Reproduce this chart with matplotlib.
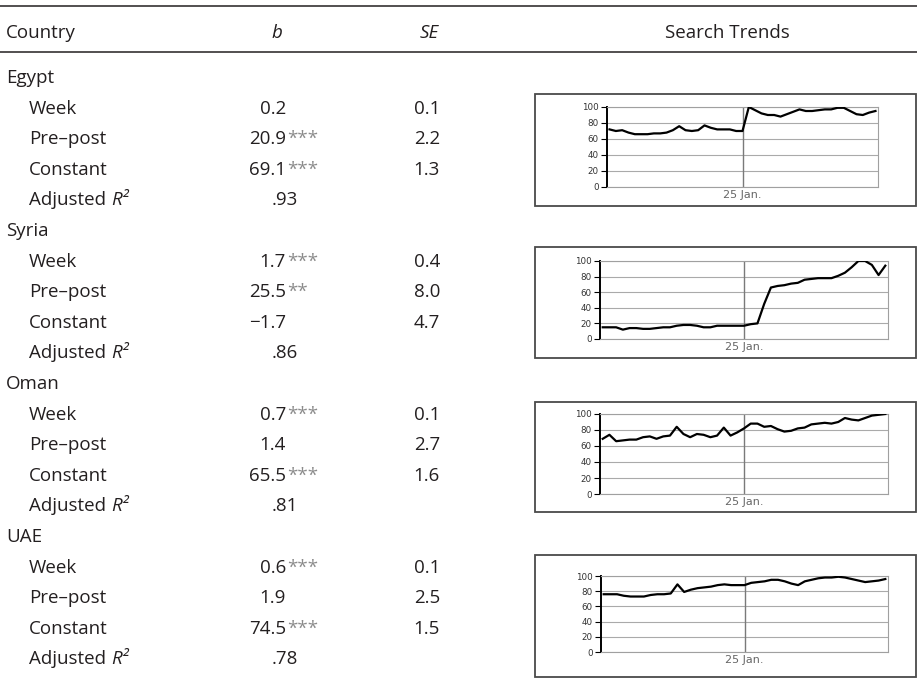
import matplotlib
matplotlib.use("Agg")
import matplotlib.pyplot as plt
from matplotlib.patches import Rectangle

plt.rcParams['font.family'] = ['Open Sans', 'DejaVu Sans']

# table values
countries = ['Egypt', 'Syria', 'Oman', 'UAE']
terms = ['Week', 'Pre–post', 'Constant']
b_vals = [['0.2', '20.9', '69.1'],
          ['1.7', '25.5', '−1.7'],
          ['0.7', '1.4', '65.5'],
          ['0.6', '1.9', '74.5']]
b_stars = [['', '***', '***'],
           ['***', '**', ''],
           ['***', '', '***'],
           ['***', '', '***']]
se_vals = [['0.1', '2.2', '1.3'],
           ['0.4', '8.0', '4.7'],
           ['0.1', '2.7', '1.6'],
           ['0.1', '2.5', '1.5']]
adj_r2 = ['.93', '.86', '.81', '.78']

# search trend series, weeks relative to 25 Jan.
weeks = list(range(-21, 22))
egypt = [72, 70, 71, 68, 66, 66, 66, 67, 67, 68, 71, 76, 71, 70, 71, 77, 74, 72, 72, 72, 70, 70,
         100, 96, 92, 90, 90, 88, 91, 94, 97, 95, 95, 96, 97, 97, 99, 99, 95, 91, 90, 93, 95]
syria = [15, 15, 15, 12, 14, 14, 13, 13, 14, 15, 15, 17, 18, 18, 17, 15, 15, 17, 17, 17, 17, 17,
         19, 20, 45, 66, 68, 69, 71, 72, 76, 77, 78, 78, 78, 81, 85, 92, 100, 100, 95, 82, 94]
oman = [69, 74, 66, 67, 68, 68, 71, 72, 69, 72, 73, 84, 75, 71, 75, 74, 71, 73, 83, 73, 77, 82,
        88, 88, 84, 85, 81, 78, 79, 82, 83, 87, 88, 89, 88, 90, 95, 93, 92, 95, 98, 99, 100]
uae = [76, 76, 76, 74, 73, 73, 73, 75, 76, 76, 77, 89, 79, 82, 84, 85, 86, 88, 89, 88, 88, 88,
       91, 92, 93, 95, 95, 93, 90, 88, 93, 95, 97, 98, 98, 99, 98, 96, 94, 92, 93, 94, 96]
trends = [egypt, syria, oman, uae]

W, H = 917, 680
INK = '#231f20'
fig = plt.figure(figsize=(W / 100, H / 100), dpi=100)
renderer = fig.canvas.get_renderer()

ax = fig.add_axes([0, 0, 1, 1])
ax.set_xlim(0, W)
ax.set_ylim(H, 0)
ax.axis('off')

fs = 13.5
ax.axhline(6, color=INK, lw=1.1)
ax.axhline(52, color=INK, lw=1.1)
ax.text(6, 38, 'Country', fontsize=fs, color=INK, va='baseline')
ax.text(277, 38, 'b', fontsize=fs, color=INK, style='italic', ha='center', va='baseline')
ax.text(429, 38, 'SE', fontsize=fs, color=INK, style='italic', ha='center', va='baseline')
ax.text(727, 38, 'Search Trends', fontsize=fs, color=INK, ha='center', va='baseline')

row_h = 30.6
base0 = 83
# (left, top, right, bottom) of each trend box and plot area, in pixels
boxes = [(535, 94, 915.5, 206), (535, 247, 915.5, 358),
         (535, 402, 915.5, 512), (535, 555, 915.5, 677)]
plots = [(607, 107, 878, 187), (600, 261, 888, 339),
         (600, 414, 888, 494), (601, 576, 888, 652)]

for i, country in enumerate(countries):
    y = base0 + i * 5 * row_h
    ax.text(6, y, country, fontsize=fs, color=INK, va='baseline')
    for j, term in enumerate(terms):
        yy = y + (j + 1) * row_h
        ax.text(29, yy, term, fontsize=fs, color=INK, va='baseline')
        ax.text(286, yy, b_vals[i][j], fontsize=fs, color=INK, ha='right', va='baseline')
        if b_stars[i][j]:
            ax.text(287, yy, b_stars[i][j], fontsize=fs, color='#8c8c8c', ha='left', va='baseline')
        ax.text(440, yy, se_vals[i][j], fontsize=fs, color=INK, ha='right', va='baseline')
    yy = y + 4 * row_h
    t = ax.text(29, yy, 'Adjusted ', fontsize=fs, color=INK, va='baseline')
    wpx = t.get_window_extent(renderer).width
    ax.text(29 + wpx, yy, 'R²', fontsize=fs, color=INK, style='italic', va='baseline')
    ax.text(298, yy, adj_r2[i], fontsize=fs, color=INK, ha='right', va='baseline')

    bl, bt, br, bb = boxes[i]
    ax.add_patch(Rectangle((bl, bt), br - bl, bb - bt, fill=False, ec='#4a4a4a', lw=1.3))

    l, t, r, b = plots[i]
    sax = fig.add_axes([l / W, 1 - b / H, (r - l) / W, (b - t) / H])
    sax.set_axisbelow(True)
    sax.plot(weeks, trends[i], color='black', lw=1.6, zorder=3)
    sax.axvline(0, color='#7a7a7a', lw=1.0, zorder=2)
    sax.set_xlim(-21.4, 21.4)
    sax.set_ylim(0, 100)
    sax.set_yticks(range(0, 101, 20))
    sax.yaxis.grid(True, color='#aaaaaa', lw=0.8)
    sax.set_xticks([0])
    sax.set_xticklabels(['25 Jan.'], family='DejaVu Sans', fontsize=8, color='#666666')
    for lab in sax.get_yticklabels():
        lab.set_family('DejaVu Sans')
    sax.tick_params(axis='x', length=0, pad=2)
    sax.tick_params(axis='y', length=4, width=0.8, pad=2, labelsize=6.3, labelcolor='#333333')
    for side in ['top', 'right', 'bottom']:
        sax.spines[side].set_color('#a0a0a0')
        sax.spines[side].set_linewidth(0.8)
    sax.spines['left'].set_color('black')
    sax.spines['left'].set_linewidth(1.4)
    sax.patch.set_alpha(0)

fig.savefig('out.png', dpi=100)
